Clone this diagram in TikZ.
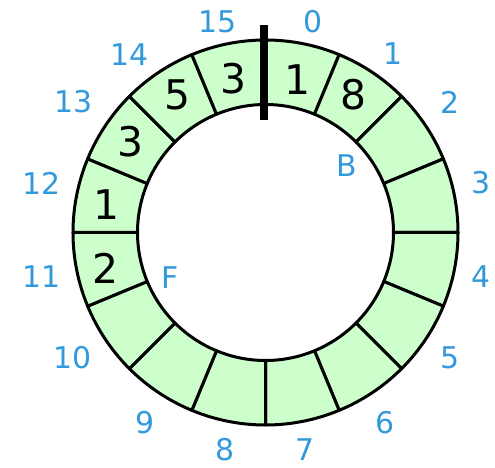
\documentclass[tikz,border=0pt]{standalone}
\usepackage{fontspec}
\setmainfont{DejaVu Sans}
\usepackage{xcolor}
\usepackage{tikz}

\definecolor{slotgreen}{HTML}{CCFFCC}
\definecolor{idxblue}{HTML}{3399DD}

\begin{document}
\begin{tikzpicture}[
        x=1bp, y=1bp,
        slot/.style={fill=slotgreen, draw=black, line width=3bp, line join=round},
        idx/.style={text=idxblue, font=\fontsize{30}{31}\selectfont, inner sep=0pt},
        val/.style={font=\fontsize{41}{43}\selectfont, inner sep=0pt},
        marker/.style={line width=7.5bp}
    ]
        \useasboundingbox (-265.5,-235.5) rectangle (229.5,232.5);

        % Ring of 16 slots
        \foreach \k in {0,...,15} {
            \pgfmathsetmacro{\a}{90-22.5*\k}
            \pgfmathsetmacro{\b}{\a-22.5}
            \draw[slot] (\a:128) -- (\a:192.5)
                arc[start angle=\a, end angle=\b, radius=192.5] -- (\b:128)
                arc[start angle=\b, end angle=\a, radius=128] -- cycle;
        }

        % Index labels
        \foreach \k/\p in {0/{47.5,210.5}, 1/{127.5,178.5}, 2/{184.5,130.5},
                           3/{215.5,49.5}, 4/{215.5,-44.5}, 5/{184.5,-125.5},
                           6/{119.5,-190.5}, 7/{39.5,-217.5}, 8/{-40.5,-217.5},
                           9/{-120.5,-190.5}, 10/{-192.5,-125.5}, 11/{-223.5,-44.5},
                           12/{-223.5,49.5}, 13/{-191.5,130.5}, 14/{-135.5,177.5},
                           15/{-47.5,210.5}} {
            \node[idx] (idx\k) at (\p) {\k};
        }

        % Stored values
        \foreach \k/\p/\v in {0/{31.5,152.5}/1, 1/{87.5,137.5}/8, 15/{-32.5,153.5}/3,
                              14/{-88.5,137.5}/5, 13/{-135.5,90.5}/3,
                              12/{-159.5,27.5}/1, 11/{-160.5,-35.5}/2} {
            \node[val] (val\k) at (\p) {\v};
        }

        % Back and front pointers
        \node[idx] (back) at (81,66.5) {B};
        \node[idx] (front) at (-95.5,-45.5) {F};

        % Start marker
        \coordinate (mtop) at (-1.5,207.5);
        \coordinate (mbot) at (-1.5,112);
        \draw[marker] (mtop) -- (mbot);
    \end{tikzpicture}
\end{document}
